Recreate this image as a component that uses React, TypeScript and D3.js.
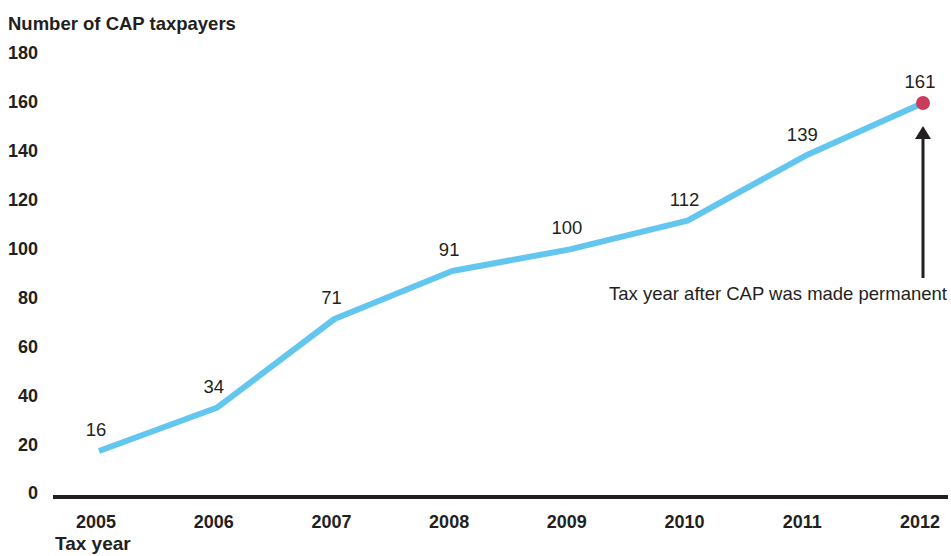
import React from "react";
import * as d3 from "d3";

const years = ["2005", "2006", "2007", "2008", "2009", "2010", "2011", "2012"];
const taxpayers = [16, 34, 71, 91, 100, 112, 139, 161];
const yTicks = [0, 20, 40, 60, 80, 100, 120, 140, 160, 180];
const yTitle = "Number of CAP taxpayers";
const xTitle = "Tax year";
const annotation = "Tax year after CAP was made permanent";

const W = 951;
const H = 556;
const INK = "#231F20";
const FONT = "'Liberation Sans', Arial, Helvetica, sans-serif";

export default function App() {
  const x = d3.scalePoint<string>().domain(years).range([99, 923]);
  const y = d3.scaleLinear().domain([0, 180]).range([489.4, 57.4]);
  const yLabel = d3.scaleLinear().domain([0, 180]).range([493, 53]);

  const data = years.map((yr, i) => ({ yr, v: taxpayers[i] }));
  const line = d3
    .line<{ yr: string; v: number }>()
    .x((d) => x(d.yr) as number)
    .y((d) => y(d.v));

  const last = data[data.length - 1];
  const lx = x(last.yr) as number;
  const ly = y(last.v);

  return (
    <svg
      width={W}
      height={H}
      viewBox={`0 0 ${W} ${H}`}
      style={{ position: "absolute", left: 0, top: 0, display: "block", background: "#fff" }}
      fontFamily={FONT}
    >
      <text x={8} y={29.5} fontSize={18.5} fontWeight="bold" fill={INK}>
        {yTitle}
      </text>
      {yTicks.map((t) => (
        <text
          key={t}
          x={38}
          y={yLabel(t)}
          dy="0.36em"
          textAnchor="end"
          fontSize={18}
          fontWeight="bold"
          fill={INK}
        >
          {t}
        </text>
      ))}
      <line x1={53} x2={948} y1={497} y2={497} stroke={INK} strokeWidth={4} />
      {years.map((yr) => (
        <text
          key={yr}
          x={(x(yr) as number) - 3}
          y={522}
          dy="0.36em"
          textAnchor="middle"
          fontSize={18}
          fontWeight="bold"
          fill={INK}
        >
          {yr}
        </text>
      ))}
      <text x={55} y={550} fontSize={19} fontWeight="bold" fill={INK}>
        {xTitle}
      </text>
      <path d={line(data) || ""} fill="none" stroke="#62C6EF" strokeWidth={6} strokeLinejoin="round" />
      {data.map((d) => (
        <text
          key={d.yr}
          x={(x(d.yr) as number) - 3}
          y={y(d.v) - 15}
          textAnchor="middle"
          fontSize={18.5}
          fill={INK}
        >
          {d.v}
        </text>
      ))}
      <circle cx={lx} cy={ly} r={7} fill="#C73D5B" />
      <line x1={lx} x2={lx} y1={ly + 34} y2={ly + 175} stroke={INK} strokeWidth={3} />
      <path
        d={`M${lx},${ly + 23} L${lx - 8},${ly + 36} L${lx + 8},${ly + 36} Z`}
        fill={INK}
      />
      <text x={947} y={ly + 196.5} textAnchor="end" fontSize={18.5} fill={INK}>
        {annotation}
      </text>
    </svg>
  );
}
